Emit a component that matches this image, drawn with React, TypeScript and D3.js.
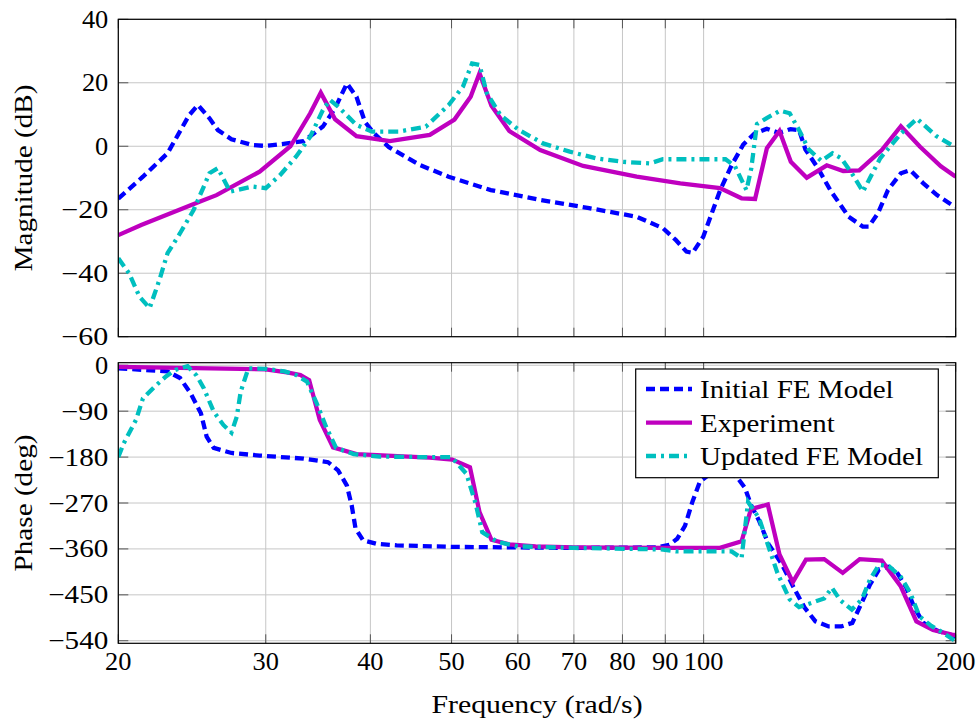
import React from "react";
import * as d3 from "d3";

const FREQ_TICKS = [20, 30, 40, 50, 60, 70, 80, 90, 100, 200];
const MAG_TICKS = [40, 20, 0, -20, -40, -60];
const PHASE_TICKS = [0, -90, -180, -270, -360, -450, -540];

// [frequency rad/s, magnitude dB]
const initialMag: [number, number][] = [
  [20, -16.5], [21.4, -9.6], [22.9, -2.2], [24.3, 9.8], [24.9, 13], [25.7, 8.8], [26.3, 5.1],
  [27.3, 2.2], [28.9, 0.4], [30, 0.1], [31.8, 0.9], [33.3, 1.6], [35.1, 6.2], [36.3, 12],
  [37.5, 19.8], [38.5, 15.6], [39.4, 7.7], [40.4, 4.1], [42.1, -0.3], [45.8, -5.9], [49.6, -9.6],
  [55.7, -13.8], [63.8, -16.9], [73.0, -19.5], [83.2, -22.2], [89.4, -25.8], [92.6, -29.5],
  [95.4, -33.2], [97.0, -33.6], [99.9, -28.5], [104.6, -14], [108, -6], [111.5, 0.5], [115, 4],
  [119, 5.5], [123, 4.2], [127, 5.4], [130, 5.1], [132.3, -1], [137, -7], [141.8, -14],
  [149, -22.2], [154.9, -25.3], [157.5, -25.3], [161.5, -21.1], [166, -13.8], [172, -8.5],
  [176.5, -7.5], [183, -11.7], [190, -15.4], [198, -18.5], [200, -19],
];
const experimentMag: [number, number][] = [
  [20, -28], [21.3, -24.8], [25.0, -17.5], [26.2, -15.4], [29.5, -8.0], [32.1, 0], [33.9, 10.4],
  [34.9, 16.9], [36.3, 8.5], [38.5, 3.2], [42.2, 1.6], [47.1, 3.6], [50.4, 8.4], [52.7, 15.6],
  [54.0, 23], [55.8, 12.8], [58.6, 4.8], [63.8, -1.2], [71.8, -6.2], [83.2, -9.6], [93.8, -11.7],
  [104.6, -13.2], [111, -16.4], [115.2, -16.6], [119, -0.6], [123.2, 4.8], [127.1, -4.9],
  [132.8, -9.9], [140.3, -6], [146.8, -7.8], [153.4, -7.6], [163.2, -1.2], [172, 6.3],
  [181.2, -0.1], [192, -6.3], [200, -9.6],
];
const updatedMag: [number, number][] = [
  [20, -35.3], [20.6, -40], [21.2, -47.4], [21.8, -51], [22.4, -42], [22.9, -33.7], [23.7, -27.4],
  [24.6, -20.1], [25.3, -12.7], [25.7, -8.5], [26.3, -6.9], [27.2, -14.3], [28.9, -12.7],
  [30, -13.2], [31.2, -9.1], [32.6, -3.3], [33.9, 3.0], [35.1, 11.4], [35.8, 14.6], [36.6, 12.5],
  [38.5, 6.7], [40.2, 4.6], [43.2, 4.6], [46.6, 6.2], [49.6, 13], [51.6, 18.8], [52.9, 26.1],
  [54, 25.6], [55.1, 16.7], [57.2, 9.8], [60.2, 5.1], [64.3, 0.9], [69.2, -1.7], [74.4, -3.8],
  [80.1, -4.9], [86.3, -5.4], [89.4, -4.1], [93.8, -4.1], [106.2, -4.1], [109, -6.3],
  [112.5, -13.8], [114, -7], [115.8, 7], [118.8, 8.8], [123.4, 11.2], [126.7, 10.4], [130, 5.1],
  [133.5, -1], [138.2, -4.6], [142.5, -2.2], [146, -3.8], [150.3, -8.5], [155, -14.3],
  [158, -10], [162.5, -3.8], [172, 4], [179.8, 8.7], [189.4, 3.3], [198, 0.3], [200, 0],
];

// [frequency rad/s, phase deg]
const initialPhase: [number, number][] = [
  [20, -6], [22.9, -12], [23.7, -25], [24.4, -55], [25.1, -94], [25.5, -140], [26.0, -162],
  [27.3, -172], [29.5, -177], [33.3, -183], [35.6, -190], [36.6, -206], [37.5, -236],
  [38.0, -275], [38.4, -320], [39.2, -343], [40.7, -350], [43, -353], [50, -356], [70, -358],
  [88, -357], [91, -352], [93, -340], [95, -315], [97, -267], [99, -228], [102, -212],
  [106, -205], [109.8, -221], [112, -240], [114, -275], [116.5, -305], [119.5, -350],
  [124, -390], [128.5, -440], [132, -475], [136, -502], [141, -512], [146, -512],
  [150.5, -505], [154, -470], [158, -430], [162, -400], [166, -395], [170, -405],
  [174.5, -435], [178.5, -475], [183, -505], [190, -520], [200, -532],
];
const experimentPhase: [number, number][] = [
  [20, -3], [30, -8], [31.8, -14], [33, -19], [33.8, -29], [34.8, -107], [36.1, -161],
  [38.5, -174], [43.1, -178], [47.1, -181], [50.1, -185], [52.6, -200], [54, -288],
  [55.8, -342], [58.6, -351], [63, -355], [70, -357], [90, -358], [104.6, -358], [111, -345],
  [113.9, -282], [119.3, -273], [123.2, -371], [127.8, -425], [132.5, -381], [139.3, -380],
  [146.6, -407], [153.6, -380], [163.2, -383], [171.9, -433], [179.5, -502], [187.9, -519],
  [198, -528], [200, -529],
];
const updatedPhase: [number, number][] = [
  [20, -180], [20.3, -153], [21.0, -107], [21.4, -65], [22.1, -42], [22.8, -22], [23.4, -9],
  [24.2, -2], [24.8, -20], [25.3, -45], [26.0, -91], [26.7, -117], [27.3, -132], [27.7, -101],
  [28.0, -52], [28.6, -6], [30, -7], [31.6, -12], [32.6, -19], [33.6, -32], [34.5, -74],
  [35.4, -120], [36.4, -162], [38.2, -174], [41, -179], [46, -180], [50, -180], [52.1, -213],
  [53.4, -270], [54.4, -327], [56.7, -346], [60, -355], [70, -358], [89, -361], [93, -365],
  [108, -365], [111, -378], [113, -268], [116.5, -300], [119.5, -355], [122.5, -407],
  [126.7, -459], [130, -474], [135, -465], [139.3, -457], [142.3, -436], [145.5, -460],
  [150.3, -479], [154.5, -459], [158, -420], [162, -391], [166.5, -394], [172, -415],
  [176.5, -446], [181, -492], [187, -511], [193, -524], [200, -541],
];

const SERIES = [
  { name: "Initial FE Model", color: "#0000ff", dash: "9 5", mag: initialMag, phase: initialPhase },
  { name: "Experiment", color: "#bf00bf", dash: "none", mag: experimentMag, phase: experimentPhase },
  { name: "Updated FE Model", color: "#00bfbf", dash: "10 5 3 5", mag: updatedMag, phase: updatedPhase },
];

const FONT = '"Liberation Serif", "Times New Roman", "DejaVu Serif", serif';
const FS = 25; // glyph size
const EM = 26.4; // reference typeface em size, for text footprint
const L = 118.3, R = 955.7;
const TOP = { t: 19.3, b: 336.7 };
const BOT = { t: 362.7, b: 643.3 };

// approximate advance widths (em) of the reference typeface
const W: Record<string, number> = {
  "0": 0.5, "1": 0.5, "2": 0.5, "3": 0.5, "4": 0.5, "5": 0.5, "6": 0.5, "7": 0.5, "8": 0.5, "9": 0.5,
  "\u2212": 0.778, " ": 0.333, "(": 0.389, ")": 0.389, "/": 0.5,
  a: 0.5, b: 0.556, c: 0.444, d: 0.556, e: 0.444, g: 0.5, h: 0.556, i: 0.278, l: 0.278, m: 0.833,
  n: 0.556, o: 0.5, p: 0.556, q: 0.528, r: 0.392, s: 0.394, t: 0.389, u: 0.556, x: 0.528, y: 0.528,
  B: 0.708, E: 0.681, F: 0.653, I: 0.361, M: 0.917, P: 0.681, U: 0.75,
};
const textW = (s: string) => Array.from(s).reduce((acc, c) => acc + (W[c] ?? 0.5), 0) * EM;

const fmt = (v: number) => (v < 0 ? "\u2212" + Math.abs(v) : String(v));

function T(props: { x?: number; y?: number; anchor?: string; transform?: string; children: string }) {
  const { x = 0, y = 0, anchor = "start", transform, children } = props;
  return (
    <text
      x={x}
      y={y}
      transform={transform}
      textAnchor={anchor}
      fontSize={FS}
      fontFamily={FONT}
      textLength={textW(children)}
      lengthAdjust="spacingAndGlyphs"
      fill="#000"
    >
      {children}
    </text>
  );
}

export default function App() {
  const x = d3.scaleLog().domain([20, 200]).range([L, R]);
  const yMag = d3.scaleLinear().domain([-60, 40]).range([TOP.b, TOP.t]);
  const yPh = d3.scaleLinear().domain([-545, 5]).range([BOT.b, BOT.t]);

  const panel = (
    key: string,
    y: d3.ScaleLinear<number, number>,
    box: { t: number; b: number },
    yTicks: number[],
    field: "mag" | "phase",
    showX: boolean
  ) => {
    const line = d3
      .line<[number, number]>()
      .x((d) => x(d[0]))
      .y((d) => y(d[1]));
    return (
      <g key={key}>
        <defs>
          <clipPath id={"clip-" + key}>
            <rect x={L} y={box.t} width={R - L} height={box.b - box.t} />
          </clipPath>
        </defs>
        {FREQ_TICKS.map((f) => (
          <line key={"gx" + f} x1={x(f)} x2={x(f)} y1={box.t} y2={box.b} stroke="#c6c6c6" strokeWidth={1} />
        ))}
        {yTicks.map((v) => (
          <line key={"gy" + v} x1={L} x2={R} y1={y(v)} y2={y(v)} stroke="#c6c6c6" strokeWidth={1} />
        ))}
        {FREQ_TICKS.map((f) => (
          <g key={"tx" + f}>
            <line x1={x(f)} x2={x(f)} y1={box.b} y2={box.b - 9} stroke="#555" strokeWidth={1} />
            <line x1={x(f)} x2={x(f)} y1={box.t} y2={box.t + 9} stroke="#555" strokeWidth={1} />
          </g>
        ))}
        {yTicks.map((v) => (
          <g key={"ty" + v}>
            <line x1={L} x2={L + 10} y1={y(v)} y2={y(v)} stroke="#555" strokeWidth={1} />
            <line x1={R} x2={R - 10} y1={y(v)} y2={y(v)} stroke="#555" strokeWidth={1} />
          </g>
        ))}
        <g clipPath={`url(#clip-${key})`}>
          {SERIES.map((s) => (
            <path
              key={s.name}
              d={line(s[field]) || ""}
              fill="none"
              stroke={s.color}
              strokeWidth={4.3}
              strokeDasharray={s.dash}
              strokeLinejoin="miter"
            />
          ))}
        </g>
        <rect x={L} y={box.t} width={R - L} height={box.b - box.t} fill="none" stroke="#000" strokeWidth={1.2} />
        {yTicks.map((v) => (
          <T key={"ly" + v} x={L - 10} y={y(v) + 8.5} anchor="end">
            {fmt(v)}
          </T>
        ))}
        {showX &&
          FREQ_TICKS.map((f) => (
            <T key={"lx" + f} x={x(f)} y={box.b + 27} anchor="middle">
              {String(f)}
            </T>
          ))}
      </g>
    );
  };

  const legend = { x: 635.7, y: 369, w: 302.6, h: 108.7 };
  const rowY = [389, 422.7, 456];

  return (
    <svg width={980} height={723} style={{ position: "absolute", left: 0, top: 0, background: "#fff" }}>
      <rect x={0} y={0} width={980} height={723} fill="#fff" />
      {panel("mag", yMag, TOP, MAG_TICKS, "mag", false)}
      {panel("ph", yPh, BOT, PHASE_TICKS, "phase", true)}
      <g>
        <rect x={legend.x} y={legend.y} width={legend.w} height={legend.h} fill="#fff" stroke="#000" strokeWidth={1.2} />
        {SERIES.map((s, i) => (
          <g key={s.name}>
            <line x1={646} x2={692} y1={rowY[i]} y2={rowY[i]} stroke={s.color} strokeWidth={4.3} strokeDasharray={s.dash} />
            <T x={700} y={rowY[i] + 9}>{s.name}</T>
          </g>
        ))}
      </g>
      <T x={(L + R) / 2} y={713} anchor="middle">Frequency (rad/s)</T>
      <T transform={`translate(32,${(TOP.t + TOP.b) / 2}) rotate(-90)`} anchor="middle">Magnitude (dB)</T>
      <T transform={`translate(32,${(BOT.t + BOT.b) / 2}) rotate(-90)`} anchor="middle">Phase (deg)</T>
    </svg>
  );
}
